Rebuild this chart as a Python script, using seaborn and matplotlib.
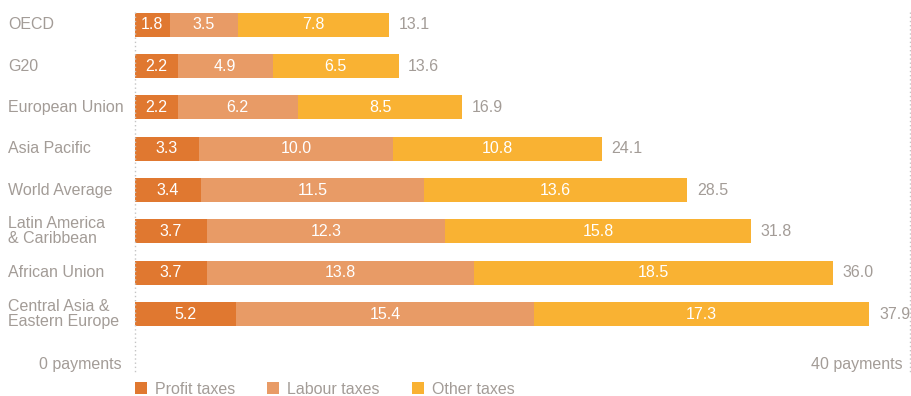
import numpy as np
import pandas as pd
import matplotlib
matplotlib.use("Agg")
import matplotlib.pyplot as plt
from matplotlib.patches import Patch
import seaborn as sns

regions = ["OECD", "G20", "European Union", "Asia Pacific", "World Average",
           "Latin America\n& Caribbean", "African Union",
           "Central Asia &\nEastern Europe"]
profit = [1.8, 2.2, 2.2, 3.3, 3.4, 3.7, 3.7, 5.2]
labour = [3.5, 4.9, 6.2, 10.0, 11.5, 12.3, 13.8, 15.4]
other = [7.8, 6.5, 8.5, 10.8, 13.6, 15.8, 18.5, 17.3]
totals = [13.1, 13.6, 16.9, 24.1, 28.5, 31.8, 36.0, 37.9]

colors = {"Profit taxes": "#E07830", "Labour taxes": "#E89B66", "Other taxes": "#F9B233"}
grey = "#A39C97"
fs = 11.5

df = pd.DataFrame({"region": regions, "profit": profit, "labour": labour, "other": other})
df["c1"] = df["profit"]
df["c2"] = df["profit"] + df["labour"]
df["c3"] = df["c2"] + df["other"]

sns.set_style("white")
plt.rcParams["font.family"] = ["Liberation Sans", "DejaVu Sans"]

fig = plt.figure(figsize=(9.12, 3.96), dpi=100)
ax = fig.add_axes([135 / 912, 24 / 396, 775 / 912, 368 / 396])

# stacked bars: draw the cumulative totals, largest first
for col, key in [("c3", "Other taxes"), ("c2", "Labour taxes"), ("c1", "Profit taxes")]:
    sns.barplot(data=df, y="region", x=col, color=colors[key], width=0.58,
                saturation=1, ax=ax, orient="h", linewidth=0, edgecolor="none")

for i, row in df.iterrows():
    starts = [0, row["c1"], row["c2"]]
    for s, v in zip(starts, [row["profit"], row["labour"], row["other"]]):
        ax.text(s + v / 2, i, f"{v:.1f}", ha="center", va="center",
                color="white", fontsize=fs)
    ax.text(row["c3"] + 0.5, i, f"{totals[i]:.1f}", ha="left", va="center",
            color=grey, fontsize=fs)
    ax.text(-0.164, i, row["region"], ha="left", va="center", color=grey,
            fontsize=fs, linespacing=1.0, transform=ax.get_yaxis_transform())

ax.set_xlim(0, 40)
ax.set_ylim(8.4, -0.5)
ax.vlines([0, 40], -0.3, 8.4, colors="#C4C4C4", linestyles=(0, (1, 2)),
          linewidth=1, clip_on=False)

ax.text(-0.7, 8.22, "0 payments", ha="right", va="center", color=grey, fontsize=fs)
ax.text(39.6, 8.22, "40 payments", ha="right", va="center", color=grey, fontsize=fs)

ax.set_xlabel("")
ax.set_ylabel("")
ax.set_xticks([])
ax.set_yticks([])
sns.despine(ax=ax, left=True, bottom=True)

handles = [Patch(facecolor=c, edgecolor="none") for c in colors.values()]
fig.legend(handles, list(colors.keys()), loc="center left",
           bbox_to_anchor=(135 / 912, 1 - 389 / 396), ncol=3, frameon=False,
           fontsize=fs, labelcolor=grey, handlelength=0.75, handleheight=0.75,
           handletextpad=0.5, columnspacing=2.0, borderpad=0, borderaxespad=0)

fig.savefig("out.png", dpi=100)
